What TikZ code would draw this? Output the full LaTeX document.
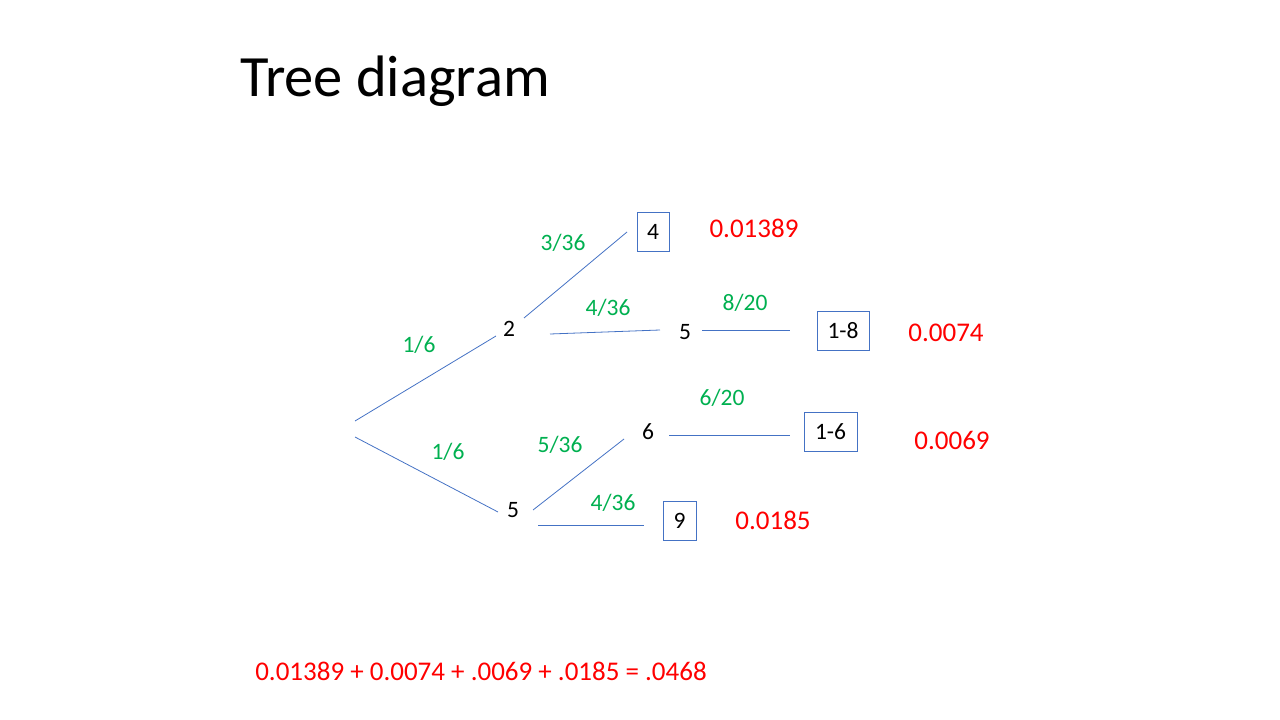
\documentclass[tikz,border=0pt]{standalone}
\usepackage{fontspec}
\setmainfont{Carlito}
\definecolor{branch}{HTML}{4472C4}
\definecolor{probgreen}{HTML}{00B050}
\definecolor{resred}{HTML}{FF0000}
\begin{document}
\begin{tikzpicture}[x=1pt,y=-1pt,
  outcome/.style={font=\fontsize{23.5}{26}\selectfont, text=black, inner sep=0pt},
  boxed/.style={draw=branch, line width=0.9pt, minimum width=#1, minimum height=39pt, inner sep=0pt, font=\fontsize{23.5}{26}\selectfont},
  prob/.style={font=\fontsize{23.5}{26}\selectfont, text=probgreen, inner sep=0pt},
  result/.style={font=\fontsize{27}{30}\selectfont, text=resred, inner sep=0pt},
  edge/.style={draw=branch, line width=0.8pt}]
\useasboundingbox (0,0) rectangle (1280,720);

% title
\node[anchor=base west, inner sep=0pt, font=\fontsize{58.5}{66}\selectfont] (title) at (240,96) {Tree diagram};

% outcome labels
\node[outcome] (n2) at (509,329) {2};
\node[outcome] (n5a) at (685,332) {5};
\node[outcome] (n6) at (648,432) {6};
\node[outcome] (n5b) at (513,510) {5};

% boxed leaves
\node[boxed=32pt] (b4) at (653,232) {4};
\node[boxed=52pt] (b18) at (843,331) {1-8};
\node[boxed=53pt] (b16) at (830.5,431.5) {1-6};
\node[boxed=33pt] (b9) at (679.5,521) {9};

% branch end points
\coordinate (r1) at (355,421);
\coordinate (r2) at (355,437);
\coordinate (u1) at (496,336);
\coordinate (d1) at (498,512);
\coordinate (s2a) at (524,318);
\coordinate (e4) at (627,232);
\coordinate (s2b) at (550,334);
\coordinate (e5) at (660,330);
\coordinate (s5a) at (702,330);
\coordinate (e18) at (790,330);
\coordinate (s6) at (669,435);
\coordinate (e16) at (790,435);
\coordinate (s5b) at (533,510);
\coordinate (e6) at (624,439);
\coordinate (s5c) at (538,525);
\coordinate (e9) at (644,525);

% branches
\draw[edge] (r1) -- (u1);
\draw[edge] (r2) -- (d1);
\draw[edge] (s2a) -- (e4);
\draw[edge] (s2b) -- (e5);
\draw[edge] (s5a) -- (e18);
\draw[edge] (s6) -- (e16);
\draw[edge] (s5b) -- (e6);
\draw[edge] (s5c) -- (e9);

% branch probabilities
\node[prob] (p1) at (419,345) {1/6};
\node[prob] (p2) at (448,452) {1/6};
\node[prob] (p3) at (563,243) {3/36};
\node[prob] (p4) at (608,308) {4/36};
\node[prob] (p5) at (745,303) {8/20};
\node[prob] (p6) at (722,398) {6/20};
\node[prob] (p7) at (560,445) {5/36};
\node[prob] (p8) at (613,503) {4/36};

% path probabilities
\node[result] (q1) at (754,228) {0.01389};
\node[result] (q2) at (946,333) {0.0074};
\node[result] (q3) at (952,440) {0.0069};
\node[result] (q4) at (773,520) {0.0185};

% total
\node[result] (sum) at (481,671) {0.01389 + 0.0074 + .0069 + .0185 = .0468};
\end{tikzpicture}
\end{document}
